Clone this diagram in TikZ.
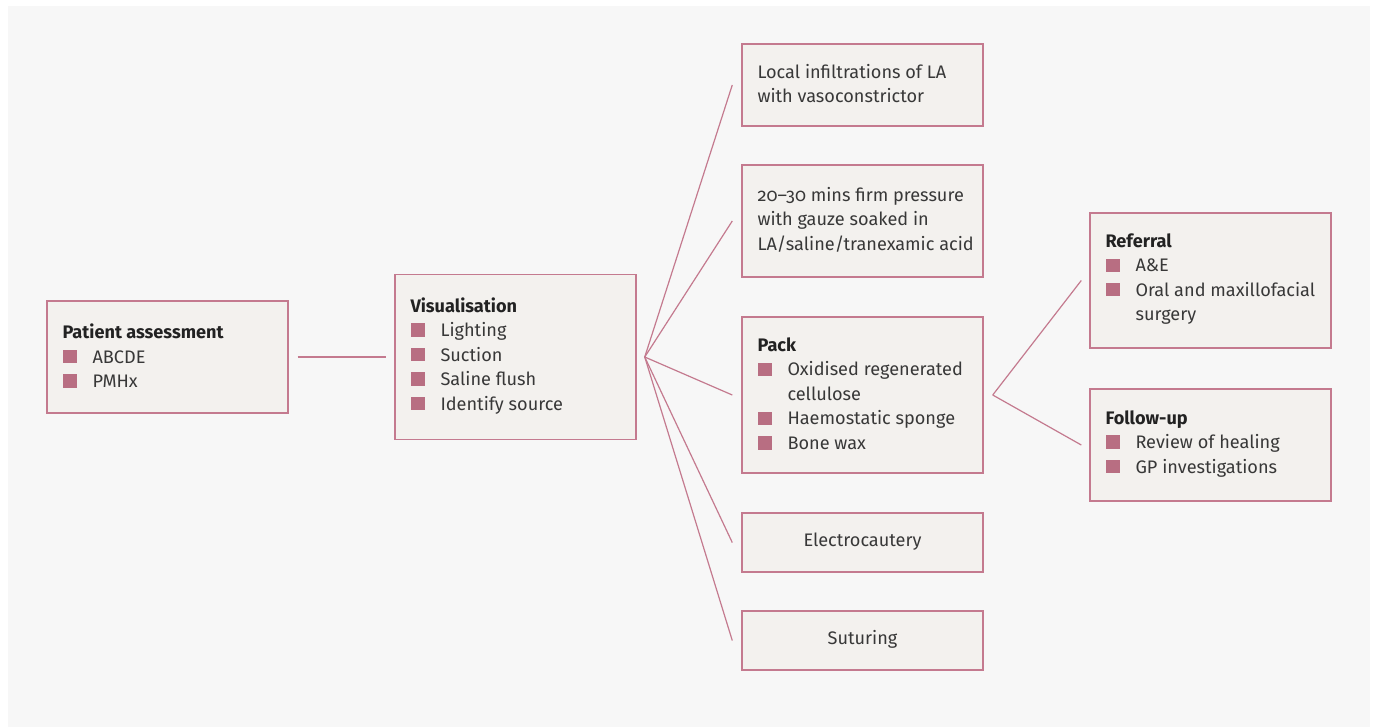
\documentclass[tikz,border=0pt]{standalone}
\usepackage{fontspec}
\setmainfont{Fira Sans}[Numbers=OldStyle]
\usetikzlibrary{calc}
\definecolor{bgc}{HTML}{F7F7F7}
\definecolor{boxc}{HTML}{F3F1EE}
\definecolor{bordc}{HTML}{C47A8F}
\definecolor{bulc}{HTML}{B86E82}
\definecolor{txtc}{HTML}{383838}
\definecolor{ttlc}{HTML}{222222}
\newcommand\bul{\makebox[22.5pt][l]{\textcolor{bulc}{\rule{10.5pt}{10pt}}}}
\newcommand\ttl[1]{{\bfseries\color{ttlc}#1}}
\tikzset{
  box/.style={draw=bordc, fill=boxc, line width=1.1pt, minimum width=180.75pt, inner sep=0pt},
  txt/.style={anchor=west, inner sep=0pt, align=left, text=txtc, font={\fontsize{13.6pt}{18.4pt}\selectfont}},
  ctxt/.style={inner sep=0pt, align=center, text=txtc, font={\fontsize{13.6pt}{18.4pt}\selectfont}},
  conn/.style={draw=bordc, line width=0.9pt}
}
\begin{document}
\begin{tikzpicture}[x=0.75pt,y=-0.75pt]
\useasboundingbox (0,0) rectangle (1373,727);
\fill[white] (0,0) rectangle (1373,727);
\fill[bgc] (8,6) rectangle (1370,727);

% boxes
\node[box, minimum height=84pt] (pa) at (167.5,357) {};
\node[box, minimum height=123.75pt] (vis) at (515.5,357) {};
\node[box, minimum height=61.5pt] (b1) at (862.5,85) {};
\node[box, minimum height=84pt] (b2) at (862.5,221) {};
\node[box, minimum height=117pt] (pack) at (862.5,395) {};
\node[box, minimum height=44.25pt] (elec) at (862.5,542.5) {};
\node[box, minimum height=44.25pt] (sut) at (862.5,640.5) {};
\node[box, minimum height=101.25pt] (ref) at (1210.5,280.5) {};
\node[box, minimum height=84pt] (fol) at (1210.5,445) {};

% texts
\node[txt] (tpa) at ([xshift=12pt,yshift=1pt]pa.west) {\ttl{Patient assessment}\\\bul ABCDE\\\bul PMHx};
\node[txt] (tvis) at ([xshift=12pt,yshift=1pt]vis.west) {\ttl{Visualisation}\\\bul Lighting\\\bul Suction\\\bul Saline flush\\\bul Identify source};
\node[txt] (tb1) at ([xshift=12pt,yshift=1pt]b1.west) {Local infiltrations of LA\\with vasoconstrictor};
\node[txt] (tb2) at ([xshift=12pt,yshift=1pt]b2.west) {20–30 mins firm pressure\\with gauze soaked in\\LA/saline/tranexamic acid};
\node[txt] (tpack) at ([xshift=12pt,yshift=1pt]pack.west) {\ttl{Pack}\\\bul Oxidised regenerated\\\hspace*{22.5pt}cellulose\\\bul Haemostatic sponge\\\bul Bone wax};
\node[ctxt] (telec) at ([yshift=1pt]elec.center) {Electrocautery};
\node[ctxt] (tsut) at ([yshift=1pt]sut.center) {Suturing};
\node[txt] (tref) at ([xshift=12pt,yshift=1pt]ref.west) {\ttl{Referral}\\\bul A\&E\\\bul Oral and maxillofacial\\\hspace*{22.5pt}surgery};
\node[txt] (tfol) at ([xshift=12pt,yshift=1pt]fol.west) {\ttl{Follow-up}\\\bul Review of healing\\\bul GP investigations};

% connectors
\coordinate (fan) at ([xshift=6pt]vis.east);
\coordinate (fan2) at ([xshift=6.75pt]pack.east);
\draw[conn] ([xshift=6.75pt]pa.east) -- ([xshift=-6pt]vis.west);
\draw[conn] (fan) -- ([xshift=-6.75pt]b1.west);
\draw[conn] (fan) -- ([xshift=-6.75pt]b2.west);
\draw[conn] (fan) -- ([xshift=-6.75pt]pack.west);
\draw[conn] (fan) -- ([xshift=-6.75pt]elec.west);
\draw[conn] (fan) -- ([xshift=-6.75pt]sut.west);
\draw[conn] (fan2) -- ([xshift=-6pt]ref.west);
\draw[conn] (fan2) -- ([xshift=-6pt]fol.west);
\end{tikzpicture}
\end{document}
